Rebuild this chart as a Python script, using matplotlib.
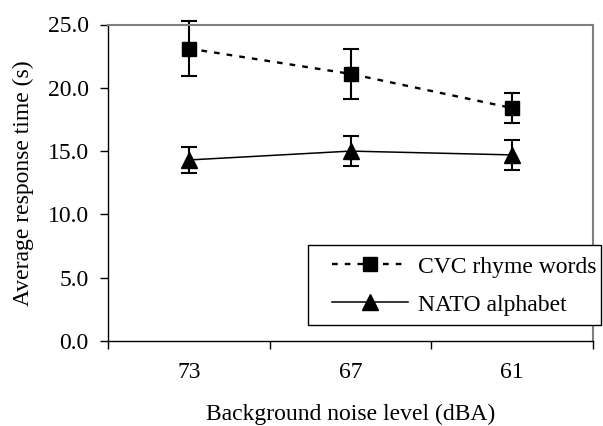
import matplotlib
matplotlib.use("Agg")
import matplotlib.pyplot as plt
from matplotlib.patches import Rectangle
import numpy as np

# data
noise_levels = ["73", "67", "61"]
cvc_mean = [23.1, 21.1, 18.4]
cvc_err = [2.2, 2.0, 1.2]
nato_mean = [14.3, 15.0, 14.7]
nato_err = [1.0, 1.2, 1.2]
y_ticks = [0, 5, 10, 15, 20, 25]

plt.rcParams['font.family'] = ['Liberation Serif', 'DejaVu Serif']
FS = 17

fig = plt.figure(figsize=(6.03, 4.26), dpi=100)
ax = fig.add_axes([108 / 603, 1 - 341 / 426, (593 - 108) / 603, (341 - 24.5) / 426])

x = np.arange(1, len(noise_levels) + 1)

# error bars first, then the lines and markers (clean legend handles)
for mean, err in ((cvc_mean, cvc_err), (nato_mean, nato_err)):
    eb = ax.errorbar(x, mean, yerr=err, fmt='none', ecolor='black',
                     elinewidth=1.5, capsize=5.5, capthick=1.5)
    for art in eb.lines[1] + eb.lines[2]:
        art.set_clip_on(False)

l_cvc, = ax.plot(x, cvc_mean, color='black', lw=1.7, dashes=(2.4, 3),
                 marker='s', ms=10, label='CVC rhyme words', clip_on=False)
l_nato, = ax.plot(x, nato_mean, color='black', lw=1.1,
                  marker='^', ms=11, label='NATO alphabet', clip_on=False)

ax.set_xlim(0.5, len(noise_levels) + 0.5)
ax.set_ylim(0, 25)

# category boundaries get the tick marks, labels sit in between
ax.set_xticks(np.arange(0.5, len(noise_levels) + 1, 1.0))
ax.set_xticklabels([])
ax.set_xticks(x, minor=True)
ax.set_xticklabels(noise_levels, minor=True, fontsize=FS)
ax.tick_params(axis='x', which='major', direction='out', length=6, width=1)
ax.tick_params(axis='x', which='minor', length=0, pad=15)

ax.set_yticks(y_ticks)
ax.set_yticklabels([f"{v:.1f}" for v in y_ticks], fontsize=FS)
ax.tick_params(axis='y', direction='out', length=6, width=1, pad=8)

for side in ('top', 'right'):
    ax.spines[side].set_color('#808080')
    ax.spines[side].set_linewidth(1.5)
for side in ('left', 'bottom'):
    ax.spines[side].set_color('black')
    ax.spines[side].set_linewidth(1.0)

ax.set_xlabel('Background noise level (dBA)', fontsize=FS, labelpad=15)
ax.set_ylabel('Average response time (s)', fontsize=FS, labelpad=10)

# legend box drawn by hand so the padding can match the reference
fig.patches.append(Rectangle((308 / 603, 1 - 325 / 426), (601 - 308) / 603,
                             (325 - 245) / 426, transform=fig.transFigure,
                             facecolor='white', edgecolor='black', lw=1.0,
                             zorder=5))
leg = fig.legend([l_cvc, l_nato], ['CVC rhyme words', 'NATO alphabet'],
                 loc='upper left', bbox_to_anchor=(332 / 603, 1 - 256 / 426),
                 fontsize=FS, frameon=False, handlelength=3.22,
                 handletextpad=0.42, borderpad=0, labelspacing=0.7,
                 borderaxespad=0)
leg.set_zorder(6)

fig.savefig('out.png', dpi=100)
